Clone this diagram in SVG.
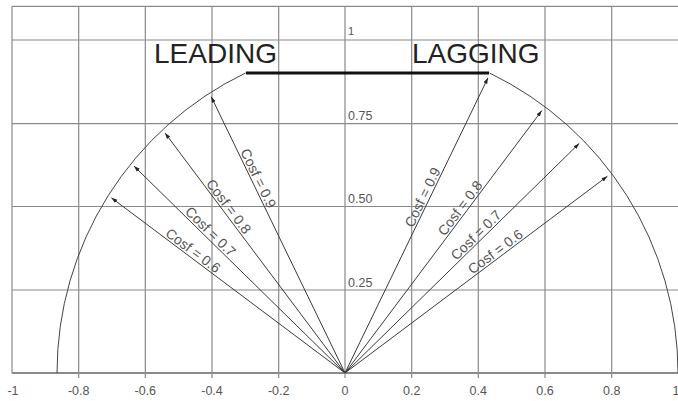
<svg xmlns="http://www.w3.org/2000/svg" width="678" height="401" viewBox="0 0 678 401">
<style>
.grid{stroke:#8a8a8a;stroke-width:1.2;fill:none}
.arc{stroke:#444;stroke-width:1;fill:none}
.vec{stroke:#3a3a3a;stroke-width:1;fill:none;marker-end:url(#ah)}
.lbl{font-family:"Liberation Sans",Arial,sans-serif;font-size:14px;fill:#555;text-anchor:middle}
.ax{font-family:"Liberation Sans",Arial,sans-serif;font-size:12.5px;fill:#555}
.title{font-family:"Liberation Sans",Arial,sans-serif;font-size:28px;fill:#222}
</style>
<defs>
<marker id="ah" markerUnits="userSpaceOnUse" markerWidth="8" markerHeight="6" refX="6" refY="3" orient="auto">
<path d="M0,1 L6,3 L0,5 z" fill="#222"/>
</marker>
</defs>
<rect width="678" height="401" fill="#fff"/>
<g id="grid">
<path class="grid" d="M12 6.3H678M12 40H678M12 123.7H678M12 206.5H678M12 290H678"/>
<path class="grid" d="M12 373H678" style="stroke-width:1.8"/>
<path class="grid" d="M12 6.3V373M78.7 6.3V378M145.3 6.3V378M212 6.3V378M278.7 6.3V378M345 6.3V378M411.7 6.3V378M478.3 6.3V378M545 6.3V378M611.7 6.3V378"/>
</g>
<g id="axis-labels">
<text class="ax" x="13" y="395" text-anchor="middle">-1</text>
<text class="ax" x="78.7" y="395" text-anchor="middle">-0.8</text>
<text class="ax" x="145.3" y="395" text-anchor="middle">-0.6</text>
<text class="ax" x="212" y="395" text-anchor="middle">-0.4</text>
<text class="ax" x="278.7" y="395" text-anchor="middle">-0.2</text>
<text class="ax" x="345" y="395" text-anchor="middle">0</text>
<text class="ax" x="411.7" y="395" text-anchor="middle">0.2</text>
<text class="ax" x="478.3" y="395" text-anchor="middle">0.4</text>
<text class="ax" x="545" y="395" text-anchor="middle">0.6</text>
<text class="ax" x="611.7" y="395" text-anchor="middle">0.8</text>
<text class="ax" x="676" y="395" text-anchor="middle">1</text>
<text class="ax" x="348" y="35" style="font-size:11px">1</text>
<text class="ax" x="348" y="120">0.75</text>
<text class="ax" x="348" y="203">0.50</text>
<text class="ax" x="348" y="287">0.25</text>
</g>
<g id="boundary">
<path class="arc" d="M57 373A333 333 0 0 1 245.5 73"/>
<path class="arc" d="M489.5 73A333 333 0 0 1 678 373"/>
<path d="M246 73H489" stroke="#111" stroke-width="3.2" fill="none"/>
</g>
<g id="titles">
<text class="title" x="154" y="63">LEADING</text>
<text class="title" x="412" y="63">LAGGING</text>
</g>
<g id="connectors">
<line class="vec" x1="345" y1="373" x2="211.2" y2="96.7"/>
<line class="vec" x1="345" y1="373" x2="165" y2="133"/>
<line class="vec" x1="345" y1="373" x2="134" y2="166.1"/>
<line class="vec" x1="345" y1="373" x2="111.4" y2="197.8"/>
<line class="vec" x1="345" y1="373" x2="488" y2="77.8"/>
<line class="vec" x1="345" y1="373" x2="541.8" y2="110.6"/>
<line class="vec" x1="345" y1="373" x2="579.2" y2="143.4"/>
<line class="vec" x1="345" y1="373" x2="607.4" y2="176.2"/>
</g>
<g id="vector-labels">
<text class="lbl" transform="translate(252.2 181.3) rotate(64.16)" y="-2">Cosf = 0.9</text>
<text class="lbl" transform="translate(223.2 210.6) rotate(53.13)" y="-2">Cosf = 0.8</text>
<text class="lbl" transform="translate(205.7 236.5) rotate(44.43)" y="-2">Cosf = 0.7</text>
<text class="lbl" transform="translate(189 256) rotate(36.87)" y="-2">Cosf = 0.6</text>
<text class="lbl" transform="translate(428.7 200.2) rotate(-64.16)" y="-2">Cosf = 0.9</text>
<text class="lbl" transform="translate(465.6 212.2) rotate(-53.13)" y="-2">Cosf = 0.8</text>
<text class="lbl" transform="translate(480.7 240) rotate(-44.43)" y="-2">Cosf = 0.7</text>
<text class="lbl" transform="translate(499.4 257.2) rotate(-36.87)" y="-2">Cosf = 0.6</text>
</g>
</svg>
